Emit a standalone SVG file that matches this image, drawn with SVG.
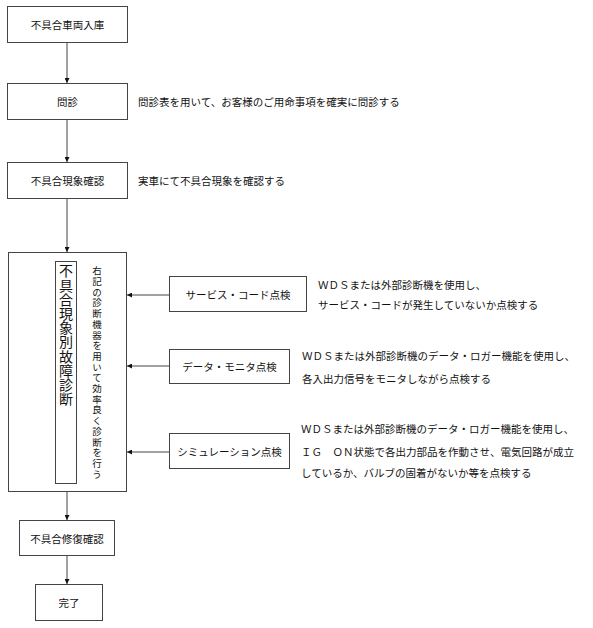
<svg xmlns="http://www.w3.org/2000/svg" width="593" height="628" viewBox="0 0 593 628">
<style>
.box{fill:#fff;stroke:#444;stroke-width:1}
.t{font-family:"Noto Sans CJK JP","Noto Sans",sans-serif;font-size:10.5px;fill:#111}
.c{text-anchor:middle;dominant-baseline:central}
.v{writing-mode:vertical-rl;font-family:"Noto Sans CJK JP",sans-serif;fill:#111}
.ln{stroke:#444;stroke-width:1;fill:none}
</style>
<defs>
<marker id="ah" viewBox="0 0 10 10" refX="10" refY="5" markerWidth="5" markerHeight="5" orient="auto" markerUnits="userSpaceOnUse">
<path d="M0,0 L10,5 L0,10 z" fill="#111"/>
</marker>
</defs>
<rect width="593" height="628" fill="#fff"/>
<g id="connectors">
<line class="ln" x1="67" y1="42" x2="67" y2="83" marker-end="url(#ah)"/>
<line class="ln" x1="67" y1="120" x2="67" y2="162" marker-end="url(#ah)"/>
<line class="ln" x1="67" y1="199" x2="67" y2="252" marker-end="url(#ah)"/>
<line class="ln" x1="67" y1="492" x2="67" y2="520" marker-end="url(#ah)"/>
<line class="ln" x1="67" y1="556" x2="67" y2="584" marker-end="url(#ah)"/>
<line class="ln" x1="169" y1="295" x2="127" y2="295" marker-end="url(#ah)"/>
<line class="ln" x1="169" y1="366" x2="127" y2="366" marker-end="url(#ah)"/>
<line class="ln" x1="169" y1="452" x2="127" y2="452" marker-end="url(#ah)"/>
</g>
<g id="n1"><rect class="box" x="7.5" y="6.5" width="120" height="36"/><text class="t c" x="67.5" y="24.5">不具合車両入庫</text></g>
<g id="n2"><rect class="box" x="7.5" y="83.5" width="120" height="36"/><text class="t c" x="67.5" y="101.5">問診</text>
<text class="t" x="138" y="101.5" dominant-baseline="central">問診表を用いて、お客様のご用命事項を確実に問診する</text></g>
<g id="n3"><rect class="box" x="7.5" y="162.5" width="120" height="36"/><text class="t c" x="67.5" y="180.5">不具合現象確認</text>
<text class="t" x="138" y="180.5" dominant-baseline="central">実車にて不具合現象を確認する</text></g>
<g id="n4">
<rect class="box" x="8.5" y="252.5" width="118" height="239"/>
<rect class="box" x="55.5" y="261.5" width="21" height="222"/>
<text class="v" x="66" y="264" font-size="14px" letter-spacing="0.2">不具合現象別故障診断</text>
<text class="v" x="97" y="266" font-size="9.5px" letter-spacing="1.2">右記の診断機器を用いて効率良く診断を行う</text>
</g>
<g id="n5"><rect class="box" x="169.5" y="276.5" width="137" height="35"/><text class="t c" x="238" y="294">サービス・コード点検</text>
<text class="t" x="318" y="284" dominant-baseline="central">ＷＤＳまたは外部診断機を使用し、</text>
<text class="t" x="318" y="304" dominant-baseline="central">サービス・コードが発生していないか点検する</text></g>
<g id="n6"><rect class="box" x="169.5" y="349.5" width="120" height="34"/><text class="t c" x="229.5" y="366.5">データ・モニタ点検</text>
<text class="t" x="302" y="355" dominant-baseline="central">ＷＤＳまたは外部診断機のデータ・ロガー機能を使用し、</text>
<text class="t" x="302" y="378" dominant-baseline="central">各入出力信号をモニタしながら点検する</text></g>
<g id="n7"><rect class="box" x="169.5" y="433.5" width="120" height="35"/><text class="t c" x="229.5" y="451">シミュレーション点検</text>
<text class="t" x="301" y="428" dominant-baseline="central">ＷＤＳまたは外部診断機のデータ・ロガー機能を使用し、</text>
<text class="t" x="301" y="451" dominant-baseline="central">ＩＧ　ＯＮ状態で各出力部品を作動させ、電気回路が成立</text>
<text class="t" x="301" y="472" dominant-baseline="central">しているか、バルブの固着がないか等を点検する</text></g>
<g id="n8"><rect class="box" x="19.5" y="520.5" width="95" height="35"/><text class="t c" x="67" y="538">不具合修復確認</text></g>
<g id="n9"><rect class="box" x="35.5" y="584.5" width="67" height="36"/><text class="t c" x="69" y="602.5">完了</text></g>
</svg>
